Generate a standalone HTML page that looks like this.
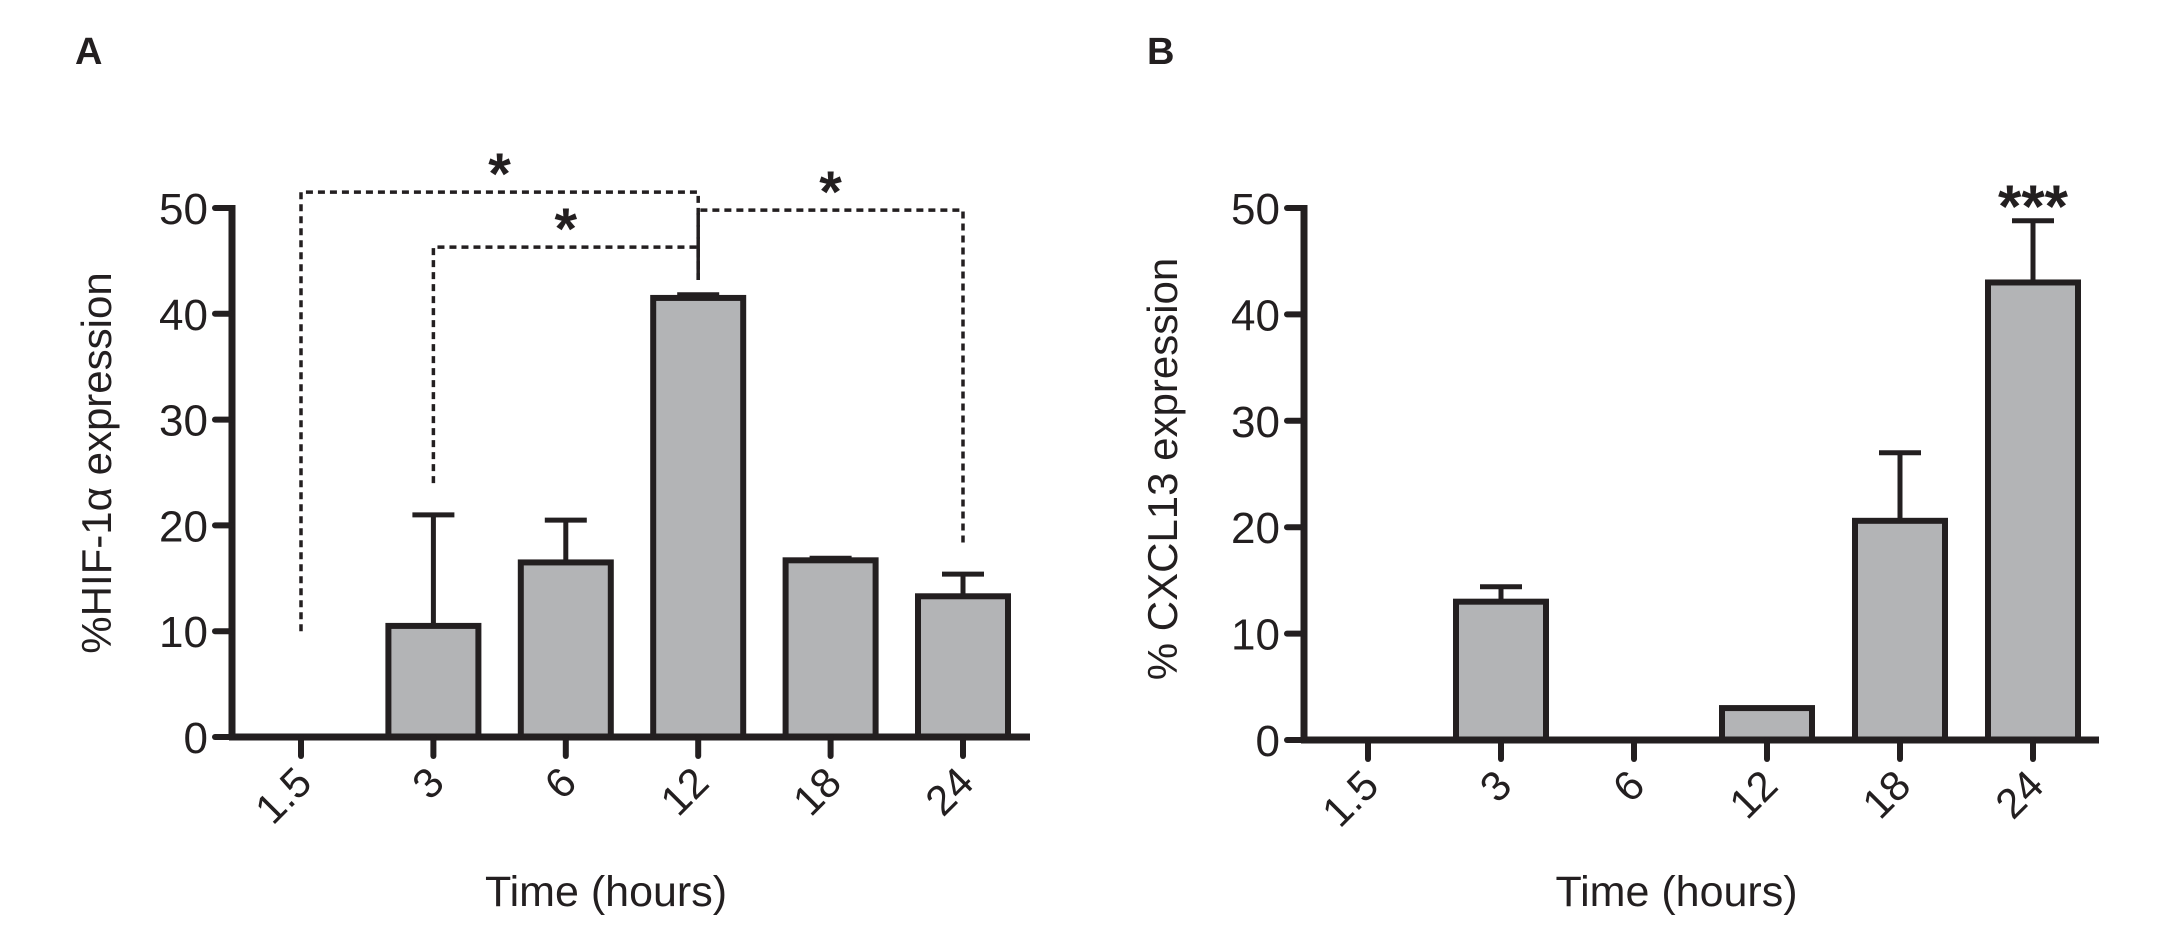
<!DOCTYPE html>
<html><head><meta charset="utf-8"><style>
html,body{margin:0;padding:0;background:#fff;}
svg{display:block;font-family:"Liberation Sans",sans-serif;}
</style></head><body>
<svg id="fig" width="2158" height="950" viewBox="0 0 2158 950"></svg>
<script>
const categories = ["1.5","3","6","12","18","24"];
const hifValues = [0, 10.5, 16.5, 41.5, 16.7, 13.3];
const hifErrors = [0, 21, 20.5, 41.8, 16.9, 15.4];
const cxclValues = [0, 13, 0, 3, 20.6, 43];
const cxclErrors = [0, 14.4, 0, 3, 27, 48.8];
const yTicks = [0, 10, 20, 30, 40, 50];
const hifBrackets = [[0,3,51.5,10,43.2],[1,3,46.3,24,43.2],[3,5,49.8,43.2,18]];

const NS = "http://www.w3.org/2000/svg";
const svg = document.getElementById('fig');
function mk(tag, attrs, parent){
  const e = document.createElementNS(NS, tag);
  for (const k in attrs) e.setAttribute(k, attrs[k]);
  (parent||svg).appendChild(e);
  return e;
}
const INK = "#231f20";

function panel(cfg){
  const g = mk('g', {});
  
  
  const y = v => cfg.y0 - (v/50)*(cfg.y0 - cfg.y50);
  const x = i => cfg.x0 + i*cfg.step;
  cfg.values.forEach((v,i)=>{
    if (v <= 0) return;
    const err = cfg.errors[i];
    if (err > v) {
      const el = mk('line',{x1:x(i),x2:x(i),y1:y(v),y2:y(err),stroke:INK,'stroke-width':5},g);
      
      
      const cap = mk('line',{x1:x(i)-21,x2:x(i)+21,y1:y(err),y2:y(err),stroke:INK,'stroke-width':5},g);
      
      
    }
    const r = mk('rect',{x:x(i)-45,y:y(v),width:90,height:cfg.y0-y(v),fill:"#b3b4b6",stroke:INK,'stroke-width':6},g);
    
    
  });
  const ya = mk('line',{x1:cfg.ax,x2:cfg.ax,y1:y(50)-3,y2:cfg.y0+3,stroke:INK,'stroke-width':7},g);
  
  
  const xa = mk('line',{x1:cfg.ax-3,x2:cfg.xend,y1:cfg.y0,y2:cfg.y0,stroke:INK,'stroke-width':7},g);
  
  
  yTicks.forEach(t=>{
    const tk = mk('line',{x1:cfg.ax-17,x2:cfg.ax,y1:y(t),y2:y(t),stroke:INK,'stroke-width':6,'stroke-linecap':'round'},g);
    
    
    const tl = mk('text',{x:cfg.ax-24,y:y(t)+16,'text-anchor':'end','font-size':44,fill:INK},g);
    tl.textContent = t;
    
    
  });
  categories.forEach((c,i)=>{
    const tk = mk('line',{x1:x(i),x2:x(i),y1:cfg.y0,y2:cfg.y0+19,stroke:INK,'stroke-width':6,'stroke-linecap':'round'},g);
    
    
    const tl = mk('text',{x:0,y:0,'text-anchor':'end','font-size':42,fill:INK,
      transform:`translate(${x(i)+13},${cfg.y0+48}) rotate(-45)`},g);
    tl.textContent = c;
    
    
  });
  const xt = mk('text',{x:(cfg.ax+cfg.xend)/2-25,y:906,'text-anchor':'middle','font-size':43,fill:INK},g);
  xt.textContent = "Time (hours)";
  
  
  const yt = mk('text',{x:0,y:0,'text-anchor':'middle','font-size':42,fill:INK,
    transform:`translate(${cfg.ylx},${cfg.yly}) rotate(-90)`},g);
  yt.textContent = cfg.ylabel;
  
  
  const pl = mk('text',{x:cfg.lx,y:64,'font-size':38,'font-weight':'bold',fill:INK},g);
  pl.textContent = cfg.letter;
  
  
  return {g,x,y};
}

const A = panel({name:'panel-a-hif', x0:301, step:132.4, ax:232, xend:1030, y0:737, y50:208,
  values:hifValues, errors:hifErrors, ylabel:"%HIF-1\u03b1 expression", ylx:111, yly:463, lx:75, letter:"A"});
hifBrackets.forEach((b,k)=>{
  const [i1,i2,top,l,r] = b;
  const p = mk('path',{d:`M${A.x(i1)},${A.y(l)} V${A.y(top)} H${A.x(i2)} V${A.y(r)}`,
    fill:'none',stroke:INK,'stroke-width':3.5,'stroke-dasharray':'7,5'},A.g);
  
  
  const s = mk('text',{x:(A.x(i1)+A.x(i2))/2,y:A.y(top)+2,'text-anchor':'middle','font-size':58,'font-weight':'bold',fill:INK},A.g);
  s.textContent = "*";
  
  
});

const B = panel({name:'panel-b-cxcl13', x0:1368, step:133, ax:1304, xend:2099, y0:740, y50:208,
  values:cxclValues, errors:cxclErrors, ylabel:"% CXCL13 expression", ylx:1177, yly:469, lx:1147, letter:"B"});
const st = mk('text',{x:B.x(5),y:B.y(48.8)+6,'text-anchor':'middle','font-size':60,'font-weight':'bold',fill:INK},B.g);
st.textContent = "***";


</script>
</body></html>
